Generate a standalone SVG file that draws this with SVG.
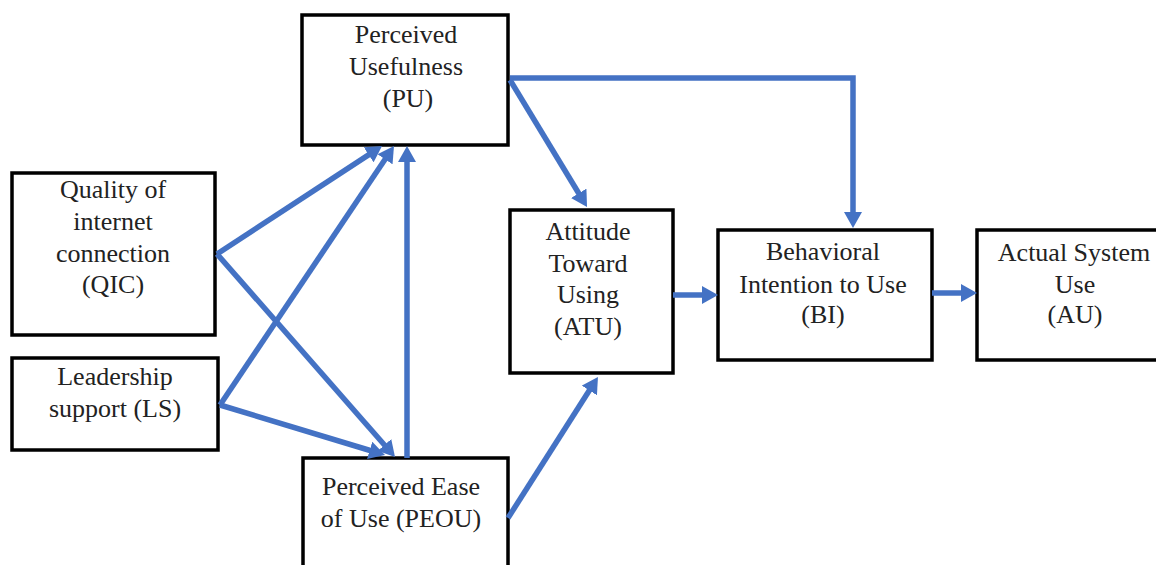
<svg xmlns="http://www.w3.org/2000/svg" width="1156" height="565" viewBox="0 0 1156 565">
<style>
.box{fill:#fff;stroke:#000;stroke-width:3.5}
.t{font-family:"Liberation Serif","Times New Roman",serif;font-size:26px;fill:#222;text-anchor:middle}
.c{fill:none;stroke:#4472C4;stroke-width:5.5}
</style>
<defs>
<marker id="ah" markerUnits="userSpaceOnUse" viewBox="0 0 16 18" markerWidth="16" markerHeight="18" refX="4" refY="9" orient="auto">
<path d="M0,0 L16,9 L0,18 z" fill="#4472C4"/>
</marker>
</defs>
<rect width="1156" height="565" fill="#fff"/>
<g id="PU"><rect class="box" x="302" y="15" width="206" height="130"/>
<text class="t" x="406" y="43">Perceived</text><text class="t" x="406" y="75">Usefulness</text><text class="t" x="408" y="107">(PU)</text></g>
<g id="QIC"><rect class="box" x="12" y="173" width="203" height="162"/>
<text class="t" x="113" y="198">Quality of</text><text class="t" x="113" y="230">internet</text><text class="t" x="113" y="262">connection</text><text class="t" x="113" y="293">(QIC)</text></g>
<g id="LS"><rect class="box" x="12" y="358" width="206" height="92"/>
<text class="t" x="115" y="385">Leadership</text><text class="t" x="115" y="417">support (LS)</text></g>
<g id="PEOU"><rect class="box" x="303" y="458" width="205" height="120"/>
<text class="t" x="401" y="495">Perceived Ease</text><text class="t" x="401" y="527">of Use (PEOU)</text></g>
<g id="ATU"><rect class="box" x="510" y="210" width="163" height="163"/>
<text class="t" x="588" y="240">Attitude</text><text class="t" x="588" y="272">Toward</text><text class="t" x="588" y="303">Using</text><text class="t" x="588" y="335">(ATU)</text></g>
<g id="BI"><rect class="box" x="718" y="230" width="214" height="130"/>
<text class="t" x="823" y="260">Behavioral</text><text class="t" x="823" y="293">Intention to Use</text><text class="t" x="823" y="323">(BI)</text></g>
<g id="AU"><rect class="box" x="977" y="230" width="190" height="130"/>
<text class="t" x="1074" y="261">Actual System</text><text class="t" x="1075" y="293">Use</text><text class="t" x="1075" y="323">(AU)</text></g>
<g id="connectors">
<path class="c" marker-end="url(#ah)" d="M217,254 L372,152.6"/>
<path class="c" marker-end="url(#ah)" d="M217,254 L387.1,448"/>
<path class="c" marker-end="url(#ah)" d="M220,405 L387.3,156"/>
<path class="c" marker-end="url(#ah)" d="M220,405 L373.5,451.5"/>
<path class="c" marker-end="url(#ah)" d="M407,458 L407,158"/>
<path class="c" marker-end="url(#ah)" d="M510,80 L580.8,196.7"/>
<path class="c" marker-end="url(#ah)" d="M508,518 L591.5,387.1"/>
<path class="c" marker-end="url(#ah)" d="M510,78 H853 V216"/>
<path class="c" marker-end="url(#ah)" d="M673,295 H706"/>
<path class="c" marker-end="url(#ah)" d="M932,293 H965"/>
</g>
</svg>
